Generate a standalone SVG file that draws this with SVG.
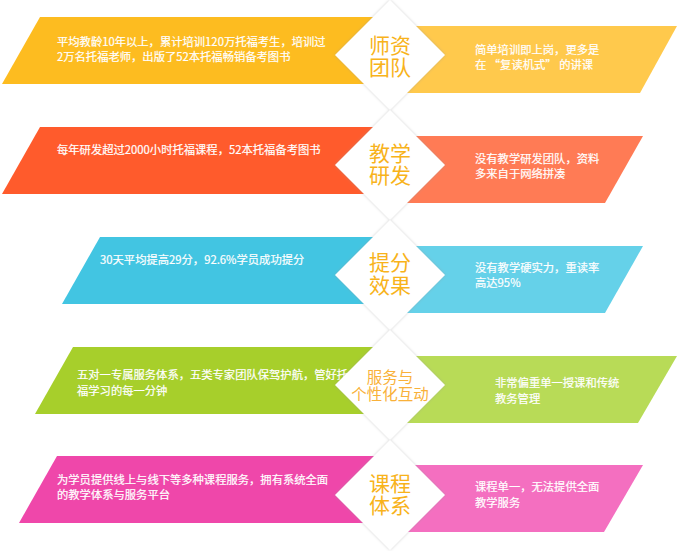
<svg xmlns="http://www.w3.org/2000/svg" width="680" height="551" viewBox="0 0 680 551">
<defs>
<style>
.t{font-family:"Noto Sans CJK SC","Liberation Sans",sans-serif;font-size:11.3px;fill:#fff;stroke:#fff;stroke-width:0.2px}
.lb{font-family:"Noto Sans CJK SC","Liberation Sans",sans-serif;font-size:21px;fill:#F8B31B;text-anchor:middle}
.lbs{font-family:"Noto Sans CJK SC","Liberation Sans",sans-serif;font-size:15.5px;fill:#F9B13A;text-anchor:middle}
.dm{fill:#fff;filter:url(#sh)}
</style>
<filter id="sh" x="-20%" y="-20%" width="140%" height="140%">
<feDropShadow dx="0" dy="0" stdDeviation="1.6" flood-color="#999" flood-opacity="0.45"/>
</filter>
</defs>
<rect width="680" height="551" fill="#fff"/>
<g id="connectors"/>
<!-- left bands -->
<g id="row1-left">
<polygon points="40,17 392,17 392,84 2,84" fill="#FDBC20"/>
<text class="t" x="57" y="46">平均教龄10年以上，累计培训120万托福考生，培训过</text>
<text class="t" x="57" y="61">2万名托福老师，出版了52本托福畅销备考图书</text>
</g>
<g id="row2-left">
<polygon points="40,127 392,127 392,194 2,194" fill="#FF5B2C"/>
<text class="t" x="57" y="154">每年研发超过2000小时托福课程，52本托福备考图书</text>
</g>
<g id="row3-left">
<polygon points="100,237 392,237 392,304 62,304" fill="#42C5E2"/>
<text class="t" x="100" y="264">30天平均提高29分，92.6%学员成功提分</text>
</g>
<g id="row4-left">
<polygon points="73,347 392,347 392,414 35,414" fill="#A7CF2B"/>
<text class="t" x="77" y="379">五对一专属服务体系，五类专家团队保驾护航，管好托</text>
<text class="t" x="77" y="395">福学习的每一分钟</text>
</g>
<g id="row5-left">
<polygon points="57,456 392,456 392,523 19,523" fill="#EF47AA"/>
<text class="t" x="57" y="484">为学员提供线上与线下等多种课程服务，拥有系统全面</text>
<text class="t" x="57" y="499">的教学体系与服务平台</text>
</g>
<!-- right bands -->
<g id="row1-right">
<polygon points="388,26 677,26 640,93 388,93" fill="#FFC94C"/>
<text class="t" x="475" y="54">简单培训即上岗，更多是</text>
<text class="t" x="475" y="69">在 “复读机式” 的讲课</text>
</g>
<g id="row2-right">
<polygon points="388,136 643,136 605,203 388,203" fill="#FF7B55"/>
<text class="t" x="475" y="163">没有教学研发团队，资料</text>
<text class="t" x="475" y="178">多来自于网络拼凑</text>
</g>
<g id="row3-right">
<polygon points="388,246 643,246 605,313 388,313" fill="#65D1E9"/>
<text class="t" x="475" y="272">没有教学硬实力，重读率</text>
<text class="t" x="475" y="287">高达95%</text>
</g>
<g id="row4-right">
<polygon points="388,356 677,356 638,423 388,423" fill="#B8DB57"/>
<text class="t" x="495" y="387">非常偏重单一授课和传统</text>
<text class="t" x="495" y="403">教务管理</text>
</g>
<g id="row5-right">
<polygon points="388,465 643,465 604,532 388,532" fill="#F46FC0"/>
<text class="t" x="475" y="491">课程单一，无法提供全面</text>
<text class="t" x="475" y="507">教学服务</text>
</g>
<!-- diamonds -->
<g id="node-shizi">
<polygon class="dm" points="390,0 445,55 390,110 335,55"/>
<text class="lb" x="390" y="52.5">师资<tspan x="390" dy="22.5">团队</tspan></text>
</g>
<g id="node-jiaoxue">
<polygon class="dm" points="390,110 445,165 390,220 335,165"/>
<text class="lb" x="390" y="160.5">教学<tspan x="390" dy="22.5">研发</tspan></text>
</g>
<g id="node-tifen">
<polygon class="dm" points="390,220 445,275 390,330 335,275"/>
<text class="lb" x="390" y="270">提分<tspan x="390" dy="23">效果</tspan></text>
</g>
<g id="node-fuwu">
<polygon class="dm" points="390,330 445,385 390,440 335,385"/>
<text class="lbs" x="390" y="383">服务与<tspan x="390" dy="16.5">个性化互动</tspan></text>
</g>
<g id="node-kecheng">
<polygon class="dm" points="390,440 445,495 390,550 335,495"/>
<text class="lb" x="390" y="490.5">课程<tspan x="390" dy="22.5">体系</tspan></text>
</g>
</svg>
